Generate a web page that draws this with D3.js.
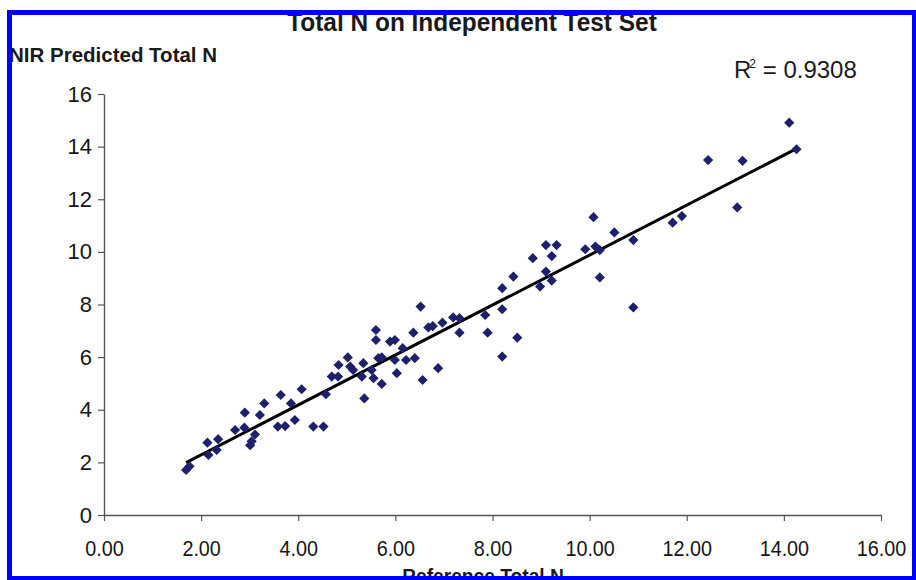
<!DOCTYPE html>
<html>
<head>
<meta charset="utf-8">
<script src="https://cdn.jsdelivr.net/npm/d3@7"></script>
<style>
  html, body { margin: 0; padding: 0; background: #fff; }
  svg { display: block; font-family: Arial, "Liberation Sans", sans-serif; }
</style>
</head>
<body>
<svg id="chart" width="916" height="580"></svg>
<script>
// ---- Data ----
const referenceN = [
  1.69, 1.76, 2.13, 2.15, 2.32, 2.35, 2.70, 2.89, 2.90, 3.01, 3.04, 3.11,
  3.21, 3.30, 3.58, 3.64, 3.73, 3.85, 3.93, 4.07, 4.31, 4.52, 4.57, 4.69,
  4.82, 4.83, 5.02, 5.07, 5.13, 5.31, 5.34, 5.36, 5.51, 5.55, 5.60, 5.60,
  5.65, 5.72, 5.72, 5.89, 5.99, 6.03, 5.99, 6.15, 6.22, 6.40, 6.37, 6.52,
  6.56, 6.68, 6.77, 6.88, 6.97, 7.19, 7.32, 7.32, 7.85, 7.90, 8.20, 8.20,
  8.20, 8.43, 8.51, 8.83, 8.98, 9.10, 9.22, 9.10, 9.22, 9.32, 9.91, 10.08,
  10.12, 10.21, 10.21, 10.51, 10.90, 10.90, 11.71, 11.90, 12.44, 13.04, 13.15, 14.11,
  14.26
];
const predictedN = [
  1.71, 1.85, 2.75, 2.28, 2.47, 2.88, 3.23, 3.32, 3.89, 2.65, 2.80, 3.06,
  3.80, 4.24, 3.36, 4.56, 3.38, 4.24, 3.61, 4.78, 3.36, 3.36, 4.59, 5.26,
  5.26, 5.70, 5.99, 5.64, 5.51, 5.26, 5.77, 4.43, 5.51, 5.20, 7.03, 6.65,
  5.96, 5.99, 4.98, 6.59, 6.65, 5.39, 5.89, 6.34, 5.89, 5.96, 6.93, 7.92,
  5.13, 7.13, 7.18, 5.58, 7.31, 7.51, 7.48, 6.93, 7.60, 6.93, 8.62, 7.82,
  6.02, 9.06, 6.74, 9.76, 8.68, 10.26, 9.84, 9.25, 8.91, 10.26, 10.10, 11.32,
  10.20, 10.07, 9.03, 10.74, 10.45, 7.89, 11.11, 11.36, 13.49, 11.69, 13.46, 14.91,
  13.90
];
const xTicks = [0, 2, 4, 6, 8, 10, 12, 14, 16];
const yTicks = [0, 2, 4, 6, 8, 10, 12, 14, 16];
const titleText = "Total N on Independent Test Set";
const yAxisTitle = "NIR Predicted Total N";
const xAxisTitle = "Reference Total N";
const r2Value = "0.9308";

// ---- Layout ----
const svg = d3.select("#chart");
const plot = { left: 104, right: 881, top: 94, bottom: 515 };

const x = d3.scaleLinear().domain([0, 16]).range([plot.left, plot.right]);
const y = d3.scaleLinear().domain([0, 16]).range([plot.bottom, plot.top]);

// Axes
const xAxis = d3.axisBottom(x).tickValues(xTicks).tickFormat(d3.format(".2f"))
  .tickSizeInner(6).tickSizeOuter(0).tickPadding(19);
const yAxis = d3.axisLeft(y).tickValues(yTicks).tickFormat(d3.format("d"))
  .tickSizeInner(6).tickSizeOuter(0).tickPadding(6);

const gx = svg.append("g").attr("transform", `translate(0,${plot.bottom})`).call(xAxis);
const gy = svg.append("g").attr("transform", `translate(${plot.left},0)`).call(yAxis);

[gx, gy].forEach(g => {
  g.select(".domain").attr("stroke", "#555").attr("stroke-width", 1.4);
  g.selectAll(".tick line").attr("stroke", "#555").attr("stroke-width", 1.2);
  g.selectAll(".tick text").attr("fill", "#161616").attr("font-size", 22)
    .attr("font-family", "Arial, 'Liberation Sans', sans-serif");
});
gx.selectAll(".tick text").attr("transform", `scale(0.9,1)`);

// Trend line (least squares fit computed from the data)
const n = referenceN.length;
const mx = d3.mean(referenceN), my = d3.mean(predictedN);
let sxy = 0, sxx = 0;
for (let i = 0; i < n; i++) {
  sxy += (referenceN[i] - mx) * (predictedN[i] - my);
  sxx += (referenceN[i] - mx) ** 2;
}
const slope = sxy / sxx, intercept = my - slope * mx;
const xr = d3.extent(referenceN);
svg.append("line")
  .attr("x1", x(xr[0])).attr("y1", y(intercept + slope * xr[0]))
  .attr("x2", x(xr[1])).attr("y2", y(intercept + slope * xr[1]))
  .attr("stroke", "#000").attr("stroke-width", 3);

// Points (diamonds)
const diamond = d3.symbol().type(d3.symbolSquare).size(52);
svg.append("g").selectAll("path")
  .data(referenceN.map((v, i) => [v, predictedN[i]]))
  .join("path")
  .attr("d", diamond)
  .attr("transform", d => `translate(${x(d[0])},${y(d[1])}) rotate(45)`)
  .attr("fill", "#1f1f6b");

// Texts
function label(tx, ty, txt, opts) {
  const g = svg.append("g").attr("transform", `translate(${tx},${ty}) scale(${opts.sx},1)`);
  return g.append("text").attr("text-anchor", opts.anchor || "start")
    .attr("font-size", opts.size).attr("font-weight", opts.weight || "normal")
    .attr("fill", opts.fill || "#1a1a1a").text(txt);
}
label(472, 31, titleText, { size: 26, sx: 0.94, weight: "bold", anchor: "middle" });
label(9, 62, yAxisTitle, { size: 20.5, sx: 1, weight: "bold" });
label(483, 583, xAxisTitle, { size: 20, sx: 0.96, weight: "bold", anchor: "middle" });

const r2g = svg.append("g").attr("transform", `translate(734,78)`);
const r2t = r2g.append("text").attr("font-size", 24).attr("fill", "#1a1a1a");
r2t.append("tspan").text("R");
r2t.append("tspan").attr("font-size", 12).attr("dy", -10).attr("dx", -2).text("2");
r2t.append("tspan").attr("dy", 10).text(" = " + r2Value);

// Blue frame
const blue = "#0000ff";
svg.append("rect").attr("x", 0).attr("y", 0).attr("width", 916).attr("height", 10).attr("fill", "#fff");
svg.append("rect").attr("x", 7).attr("y", 10).attr("width", 909).attr("height", 5).attr("fill", blue);
svg.append("rect").attr("x", 7).attr("y", 10).attr("width", 5).attr("height", 570).attr("fill", blue);
svg.append("rect").attr("x", 912).attr("y", 10).attr("width", 4).attr("height", 570).attr("fill", blue);
svg.append("rect").attr("x", 7).attr("y", 576).attr("width", 909).attr("height", 4).attr("fill", blue);
svg.append("rect").attr("x", 0).attr("y", 0).attr("width", 7).attr("height", 580).attr("fill", "#fff");
</script>
</body>
</html>
